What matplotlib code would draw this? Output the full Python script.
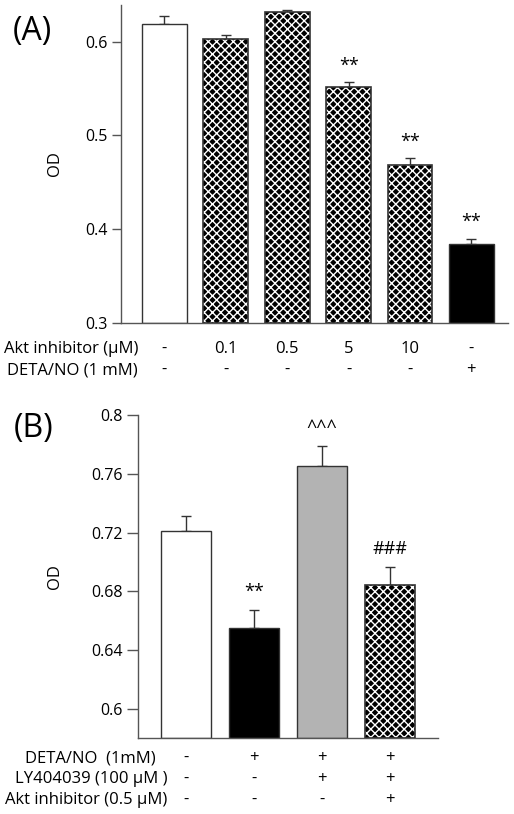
import matplotlib
matplotlib.use("Agg")
import matplotlib.pyplot as plt

plt.rcParams['font.family'] = ['Open Sans', 'DejaVu Sans']
plt.rcParams['hatch.linewidth'] = 1.0

# ---- data, panel A ----
a_od = [0.619, 0.603, 0.631, 0.552, 0.468, 0.384]
a_err = [0.008, 0.004, 0.003, 0.005, 0.008, 0.006]
a_style = ['white', 'hatch', 'hatch', 'hatch', 'hatch', 'black']
a_marks = ['', '', '', '**', '**', '**']
a_row_labels = ['Akt inhibitor (\u03bcM)', 'DETA/NO (1 mM)']
a_rows = [['-', '0.1', '0.5', '5', '10', '-'],
          ['-', '-', '-', '-', '-', '+']]
a_ticks = [0.3, 0.4, 0.5, 0.6]

# ---- data, panel B ----
b_od = [0.721, 0.655, 0.7655, 0.6845]
b_err = [0.010, 0.0125, 0.0135, 0.012]
b_style = ['white', 'black', 'gray', 'hatch']
b_marks = ['', '**', '^^^', '###']
b_row_labels = ['DETA/NO  (1mM)', 'LY404039 (100 \u03bcM )', 'Akt inhibitor (0.5 \u03bcM)']
b_rows = [['-', '+', '+', '+'],
          ['-', '-', '+', '+'],
          ['-', '-', '-', '+']]
b_ticks = [0.6, 0.64, 0.68, 0.72, 0.76, 0.8]

spine_col = '#555555'
edge_col = '#333333'


def draw_bars(ax, vals, errs, styles, width):
    xs = list(range(len(vals)))
    for x, v, s in zip(xs, vals, styles):
        base = ax.get_ylim()[0]
        if s == 'hatch':
            ax.bar(x, v - base, width, bottom=base, color='black',
                   edgecolor='white', hatch='xxxx', linewidth=0, zorder=2)
            ax.bar(x, v - base, width, bottom=base, fill=False,
                   edgecolor=edge_col, linewidth=1.2, zorder=3)
        else:
            fc = {'white': 'white', 'black': 'black', 'gray': '#b3b3b3'}[s]
            ax.bar(x, v - base, width, bottom=base, color=fc,
                   edgecolor=edge_col, linewidth=1.0, zorder=2)
    ax.errorbar(xs, vals, yerr=[[0] * len(errs), errs], fmt='none',
                ecolor=edge_col, elinewidth=1.0, capsize=3.5, capthick=1.0, zorder=1)
    return xs


def style_axes(ax, ticks, ticklen):
    for side in ['top', 'right']:
        ax.spines[side].set_visible(False)
    for side in ['left', 'bottom']:
        ax.spines[side].set_color(spine_col)
        ax.spines[side].set_linewidth(1.0)
    ax.set_xticks([])
    ax.set_yticks(ticks)
    ax.set_yticklabels([f'{t:g}' for t in ticks])
    ax.tick_params(axis='y', length=ticklen, width=1.0, color=spine_col,
                   labelsize=11.5, pad=3)


fig = plt.figure(figsize=(5.14, 8.14), dpi=100)

# ---- panel A ----
axA = fig.add_axes([0.2354, 0.6032, 0.7526, 0.3907])
axA.set_ylim(0.3, 0.639)
axA.set_xlim(-0.708, 5.594)
xs = draw_bars(axA, a_od, a_err, a_style, 0.73)
style_axes(axA, a_ticks, 6.5)
axA.set_ylabel('OD', fontsize=12)
axA.yaxis.set_label_coords(-0.15, 0.5)
for x, v, e, m in zip(xs, a_od, a_err, a_marks):
    if m:
        axA.text(x, v + e + 0.008, m, ha='center', va='bottom', fontsize=13)
row_y = [-0.082, -0.148]
for ry, lab, row in zip(row_y, a_row_labels, a_rows):
    axA.text(-0.43, ry, lab, transform=axA.get_xaxis_transform(),
             ha='right', va='center', fontsize=12)
    for x, s in zip(xs, row):
        axA.text(x, ry, s, transform=axA.get_xaxis_transform(),
                 ha='center', va='center', fontsize=12)
fig.text(0.025, 0.961, '(A)', fontsize=23, ha='left', va='center')

# ---- panel B ----
axB = fig.add_axes([0.2685, 0.093, 0.5836, 0.3972])
axB.set_ylim(0.58, 0.8)
axB.set_xlim(-0.706, 3.706)
xs = draw_bars(axB, b_od, b_err, b_style, 0.73)
style_axes(axB, b_ticks, 8)
axB.set_ylabel('OD', fontsize=12)
axB.yaxis.set_label_coords(-0.25, 0.5)
for x, v, e, m in zip(xs, b_od, b_err, b_marks):
    if m:
        axB.text(x, v + e + 0.006, m, ha='center', va='bottom', fontsize=13)
row_y = [-0.061, -0.126, -0.191]
label_x = [-0.44, -0.27, -0.28]
for ry, lx, lab, row in zip(row_y, label_x, b_row_labels, b_rows):
    axB.text(lx, ry, lab, transform=axB.get_xaxis_transform(),
             ha='right', va='center', fontsize=12)
    for x, s in zip(xs, row):
        axB.text(x, ry, s, transform=axB.get_xaxis_transform(),
                 ha='center', va='center', fontsize=12)
fig.text(0.027, 0.474, '(B)', fontsize=23, ha='left', va='center')

fig.savefig('out.png', dpi=100)
